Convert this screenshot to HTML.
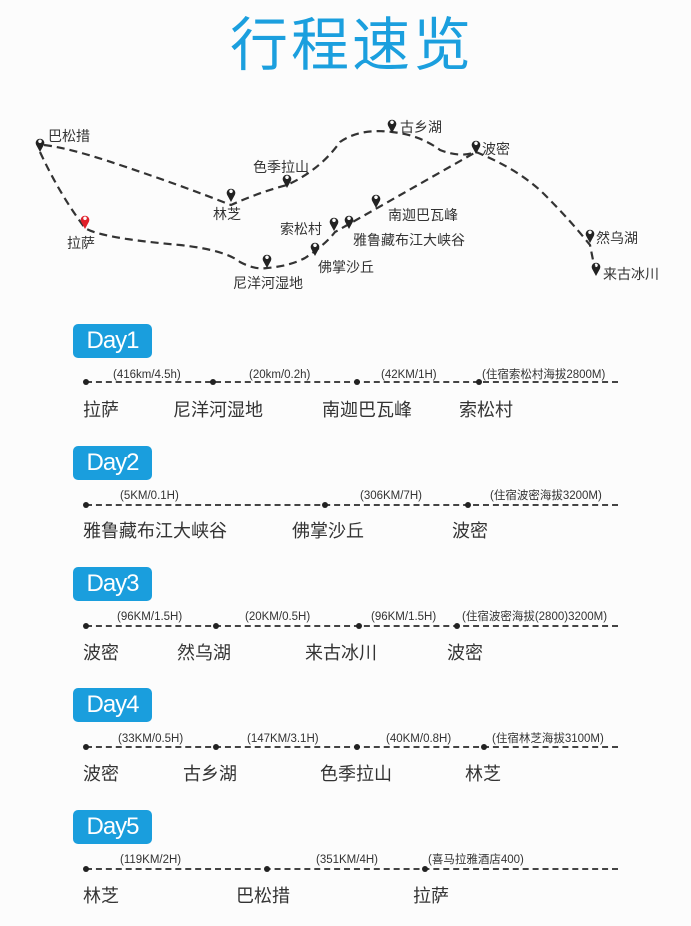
<!DOCTYPE html>
<html><head><meta charset="utf-8"><style>
body{margin:0;background:#fcfcfc;}
#p{position:relative;width:691px;height:926px;overflow:hidden;font-family:"Liberation Sans","Noto Sans CJK SC",sans-serif;color:#333;}
.t{position:absolute;left:230px;top:2px;font-size:58px;letter-spacing:3px;color:#1b9fde;font-family:"Noto Sans CJK SC",sans-serif;font-weight:400;line-height:76px;}
.d{position:absolute;left:73px;width:79px;height:34px;background:#1a9edd;border-radius:5px;color:#fff;font-size:24px;line-height:34px;text-align:center;letter-spacing:-1px;}
.ln{position:absolute;left:86px;width:532px;border-top:2px dashed #444;}
.dot{position:absolute;width:6px;height:6px;border-radius:3px;background:#222;}
.lb{position:absolute;font-size:18px;line-height:20px;color:#333;}
.ds{position:absolute;font-size:11.5px;line-height:12px;color:#333;white-space:nowrap;}
</style></head><body><div id="p">
<div class="t">行程速览</div>
<svg width="691" height="300" style="position:absolute;left:0;top:0">
<g fill="none" stroke="#333" stroke-width="2.2" stroke-dasharray="8,5">
<path d="M40 152 Q60 195 85 228 Q100 238 180 245 Q225 250 240 262 Q255 270 267 268 Q290 266 305 258 Q325 245 335 232 L476 152"/>
<path d="M44 145 Q70 148 120 165 Q180 185 231 205 Q260 192 287 185 Q320 170 340 142 Q360 128 392 132 Q420 135 440 150 Q460 158 476 152 Q520 170 545 195 Q570 220 590 245 L596 275"/>
</g>
<g font-size="14" fill="#333" font-family="Liberation Sans,Noto Sans CJK SC,sans-serif">
<text x="48" y="141">巴松措</text>
<text x="67" y="248">拉萨</text>
<text x="213" y="219">林芝</text>
<text x="253" y="172">色季拉山</text>
<text x="400" y="132">古乡湖</text>
<text x="482" y="154">波密</text>
<text x="388" y="220">南迦巴瓦峰</text>
<text x="353" y="245">雅鲁藏布江大峡谷</text>
<text x="280" y="234">索松村</text>
<text x="318" y="272">佛掌沙丘</text>
<text x="233" y="288">尼洋河湿地</text>
<text x="596" y="243">然乌湖</text>
<text x="603" y="279">来古冰川</text>
</g>
</svg>
<svg width="691" height="300" style="position:absolute;left:0;top:0">
<defs><path id="pp" d="M0 0 L-3.8 -7 A4.3 4.3 0 1 1 3.8 -7 Z M0 -12.5 A1.8 1.8 0 1 0 0.01 -12.5Z" fill-rule="evenodd"/></defs>
<g fill="#222">
<use href="#pp" x="40" y="152"/><use href="#pp" x="231" y="202"/><use href="#pp" x="287" y="188"/>
<use href="#pp" x="392" y="133"/><use href="#pp" x="476" y="154"/><use href="#pp" x="376" y="208"/>
<use href="#pp" x="349" y="229"/><use href="#pp" x="334" y="231"/><use href="#pp" x="315" y="256"/>
<use href="#pp" x="267" y="268"/><use href="#pp" x="590" y="243"/><use href="#pp" x="596" y="276"/>
</g>
<use href="#pp" x="85" y="229" fill="#e0202a"/>
</svg>

<div class="d" style="top:324px">Day1</div>
<div class="ln" style="top:381px"></div>
<div class="dot" style="left:83px;top:379px"></div><div class="dot" style="left:210px;top:379px"></div><div class="dot" style="left:354px;top:379px"></div><div class="dot" style="left:476px;top:379px"></div>
<div class="ds" style="left:113px;top:369px">(416km/4.5h)</div><div class="ds" style="left:249px;top:369px">(20km/0.2h)</div><div class="ds" style="left:381px;top:369px">(42KM/1H)</div><div class="ds" style="left:482px;top:369px">(住宿索松村海拔2800M)</div>
<div class="lb" style="left:83px;top:400px">拉萨</div><div class="lb" style="left:173px;top:400px">尼洋河湿地</div><div class="lb" style="left:322px;top:400px">南迦巴瓦峰</div><div class="lb" style="left:459px;top:400px">索松村</div>

<div class="d" style="top:446px">Day2</div>
<div class="ln" style="top:504px"></div>
<div class="dot" style="left:83px;top:502px"></div><div class="dot" style="left:322px;top:502px"></div><div class="dot" style="left:465px;top:502px"></div>
<div class="ds" style="left:120px;top:490px">(5KM/0.1H)</div><div class="ds" style="left:360px;top:490px">(306KM/7H)</div><div class="ds" style="left:490px;top:490px">(住宿波密海拔3200M)</div>
<div class="lb" style="left:83px;top:521px">雅鲁藏布江大峡谷</div><div class="lb" style="left:292px;top:521px">佛掌沙丘</div><div class="lb" style="left:452px;top:521px">波密</div>

<div class="d" style="top:567px">Day3</div>
<div class="ln" style="top:625px"></div>
<div class="dot" style="left:83px;top:623px"></div><div class="dot" style="left:213px;top:623px"></div><div class="dot" style="left:356px;top:623px"></div><div class="dot" style="left:454px;top:623px"></div>
<div class="ds" style="left:117px;top:611px">(96KM/1.5H)</div><div class="ds" style="left:245px;top:611px">(20KM/0.5H)</div><div class="ds" style="left:371px;top:611px">(96KM/1.5H)</div><div class="ds" style="left:462px;top:611px">(住宿波密海拔(2800)3200M)</div>
<div class="lb" style="left:83px;top:643px">波密</div><div class="lb" style="left:177px;top:643px">然乌湖</div><div class="lb" style="left:305px;top:643px">来古冰川</div><div class="lb" style="left:447px;top:643px">波密</div>

<div class="d" style="top:688px">Day4</div>
<div class="ln" style="top:746px"></div>
<div class="dot" style="left:83px;top:744px"></div><div class="dot" style="left:213px;top:744px"></div><div class="dot" style="left:354px;top:744px"></div><div class="dot" style="left:481px;top:744px"></div>
<div class="ds" style="left:118px;top:733px">(33KM/0.5H)</div><div class="ds" style="left:247px;top:733px">(147KM/3.1H)</div><div class="ds" style="left:386px;top:733px">(40KM/0.8H)</div><div class="ds" style="left:492px;top:733px">(住宿林芝海拔3100M)</div>
<div class="lb" style="left:83px;top:764px">波密</div><div class="lb" style="left:183px;top:764px">古乡湖</div><div class="lb" style="left:320px;top:764px">色季拉山</div><div class="lb" style="left:465px;top:764px">林芝</div>

<div class="d" style="top:810px">Day5</div>
<div class="ln" style="top:868px"></div>
<div class="dot" style="left:83px;top:866px"></div><div class="dot" style="left:264px;top:866px"></div><div class="dot" style="left:422px;top:866px"></div>
<div class="ds" style="left:120px;top:854px">(119KM/2H)</div><div class="ds" style="left:316px;top:854px">(351KM/4H)</div><div class="ds" style="left:428px;top:854px">(喜马拉雅酒店400)</div>
<div class="lb" style="left:83px;top:886px">林芝</div><div class="lb" style="left:236px;top:886px">巴松措</div><div class="lb" style="left:413px;top:886px">拉萨</div>
</div></body></html>
